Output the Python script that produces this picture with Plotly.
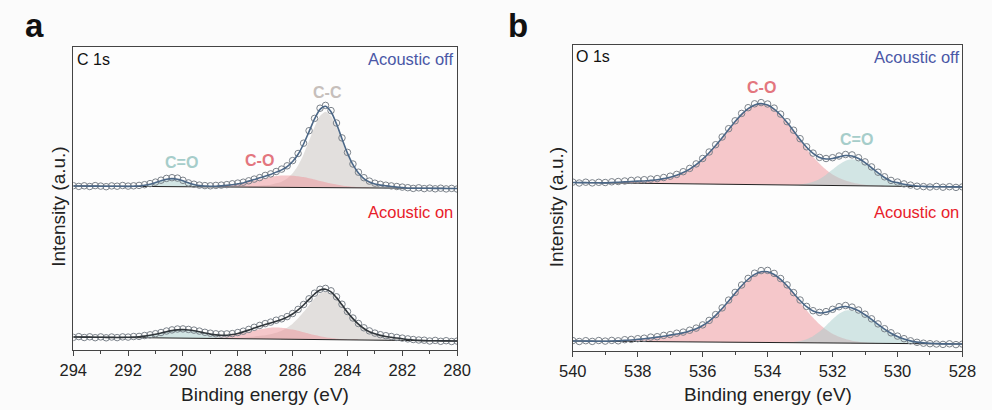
import numpy as np
import plotly.graph_objects as go

STEP = 0.2
# ---------------- Panel a : C 1s (energy grid 294 -> 280 eV) ----------------
energy_a = np.round(np.linspace(294.0, 280.0, 71), 1)
tick_labels_a = [294, 292, 290, 288, 286, 284, 282, 280]

off_a_data = [164.3, 163.6, 164.2, 163.5, 164.4, 163.9, 163.3, 164.1, 163.8, 164.5,
              163.9, 164.2, 164.6, 165.3, 166.4, 167.9, 169.8, 171.6, 172.3, 171.9,
              169.7, 167.1, 165.8, 164.9, 164.4, 164.2, 164.6, 164.9, 165.4, 166.2,
              166.9, 167.8, 169.2, 170.9, 172.4, 174.6, 176.1, 178.5, 180.9, 184.2,
              189.4, 196.5, 206.8, 219.3, 231.6, 241.8, 244.6, 239.4, 227.0, 212.1,
              197.6, 186.0, 177.8, 172.3, 168.9, 166.8, 165.7, 164.8, 164.1, 163.5,
              162.9, 162.3, 161.6, 162.2, 161.4, 161.9, 161.2, 161.8, 161.1, 161.6,
              161.0]
off_a_baseline = [164.0, 161.5]          # at 294 eV and 280 eV
off_a_CdO_start = 291.8
off_a_CdO = [0.2, 0.5, 1.2, 2.3, 4.0, 5.9, 7.4, 8.0, 7.4, 5.9, 4.0, 2.3, 1.2, 0.5, 0.2]
off_a_CO_start = 289.2
off_a_CO = [0.3, 0.5, 0.75, 1.1, 1.6, 2.3, 3.2, 4.2, 5.4, 6.6, 8.0, 9.2, 10.4, 11.2, 11.8, 12.0,
            11.8, 11.2, 10.4, 9.2, 8.0, 6.6, 5.4, 4.2, 3.2, 2.3, 1.6, 1.1, 0.75, 0.5, 0.3]
off_a_CC_start = 287.6
off_a_CC = [0.6, 1.0, 1.4, 1.9, 2.5, 4.0, 5.7, 8.8, 14.1, 22.0, 33.1, 46.7, 60.6, 71.7, 76.0,
            71.7, 60.6, 46.7, 33.1, 22.0, 14.1, 8.8, 5.7, 4.0, 2.9, 2.2, 1.6, 1.0, 0.5]

on_a_data = [12.6, 13.4, 12.5, 13.2, 12.3, 13.1, 12.2, 13.0, 12.4, 13.1,
             12.9, 13.5, 13.6, 14.5, 15.2, 16.3, 17.5, 19.0, 20.1, 21.0,
             21.1, 20.6, 19.9, 18.9, 17.7, 16.8, 16.2, 16.0, 16.1, 16.4,
             17.5, 18.8, 20.6, 22.7, 24.6, 26.4, 27.9, 29.8, 31.2, 33.4,
             36.5, 40.6, 45.5, 51.2, 56.8, 60.7, 61.6, 59.2, 53.2, 45.8,
             38.5, 32.0, 26.5, 22.2, 19.1, 16.9, 15.3, 14.3, 13.5, 12.6,
             11.9, 11.1, 10.5, 10.0, 9.8, 9.0, 9.6, 8.7, 9.3, 8.5,
             8.9]
on_a_baseline = [13.0, 9.0]
on_a_CdO_start = 292.2
on_a_CdO = [0.15, 0.3, 0.5, 1.0, 1.6, 2.5, 3.6, 4.9, 6.2, 7.4, 8.2, 8.5, 8.2, 7.4, 6.2, 4.9,
            3.6, 2.5, 1.6, 1.0, 0.5, 0.3, 0.15]
on_a_CO_start = 289.6
on_a_CO = [0.15, 0.3, 0.4, 0.7, 1.1, 1.7, 2.4, 3.4, 4.5, 5.75, 7.1, 8.5, 9.7, 10.6, 11.3, 11.5,
           11.3, 10.6, 9.7, 8.5, 7.1, 5.75, 4.5, 3.4, 2.4, 1.7, 1.1, 0.7, 0.4, 0.3, 0.15]
on_a_CC_start = 288.2
on_a_CC = [0.2, 0.5, 1.0, 1.6, 2.3, 3.1, 3.8, 4.8, 6.3, 8.4, 11.5, 15.6, 21.0, 27.3, 34.3, 41.0,
           46.1, 48.0, 46.1, 41.0, 34.3, 27.3, 21.0, 15.6, 11.5, 8.4, 6.3, 4.8, 3.8, 3.1, 2.3,
           1.6, 1.0, 0.5, 0.2]

# ---------------- Panel b : O 1s (energy grid 540 -> 528 eV) ----------------
energy_b = np.round(np.linspace(540.0, 528.0, 61), 1)
tick_labels_b = [540, 538, 536, 534, 532, 530, 528]

off_b_data = [168.9, 168.0, 168.8, 168.1, 168.7, 168.5, 169.2, 169.5, 170.0, 170.6,
              171.0, 171.3, 171.9, 172.4, 173.5, 174.8, 176.6, 179.3, 182.6, 187.1,
              192.5, 199.0, 206.3, 214.0, 222.3, 230.2, 237.6, 243.3, 247.2, 248.4,
              247.0, 242.9, 236.9, 229.3, 220.8, 212.3, 204.2, 197.9, 193.6, 192.5,
              193.3, 195.0, 196.5, 196.1, 193.3, 189.1, 184.1, 178.8, 174.2, 170.6,
              169.0, 167.1, 165.9, 164.8, 164.4, 164.0, 164.6, 163.8, 164.3, 163.6,
              164.1]
off_b_baseline = [168.5, 164.0]
off_b_CO_start = 538.8
off_b_CO = [0.4, 0.8, 1.2, 1.7, 2.1, 2.4, 3.0, 3.7, 4.9, 6.3, 8.4, 11.2, 14.7, 19.2, 24.8,
            31.3, 38.6, 46.5, 54.8, 62.8, 70.1, 75.9, 79.7, 81.0, 79.7, 75.8, 69.9, 62.4,
            53.8, 44.9, 36.3, 28.4, 21.5, 15.7, 11.1, 7.6, 5.1, 3.2, 2.0, 1.2, 0.7, 0.4, 0.2]
off_b_CdO_start = 533.2
off_b_CdO = [0.3, 0.7, 1.7, 3.5, 6.4, 10.7, 15.9, 21.1, 25.0, 26.5, 25.3, 22.0, 17.5, 12.7,
             8.4, 5.0, 3.6, 2.0, 1.1, 0.5, 0.2]

on_b_data = [10.4, 9.5, 10.3, 9.6, 10.5, 9.9, 10.6, 10.2, 11.3, 11.6,
             12.3, 12.8, 13.9, 14.3, 15.6, 16.4, 17.8, 18.9, 20.8, 22.9,
             26.1, 30.6, 36.4, 43.1, 50.9, 58.6, 66.0, 72.6, 77.8, 80.4,
             80.6, 77.6, 72.5, 66.1, 58.4, 51.0, 44.6, 40.3, 38.6, 39.4,
             41.7, 44.3, 45.5, 43.9, 41.0, 36.8, 32.2, 27.1, 22.3, 18.2,
             14.9, 12.3, 10.2, 8.7, 7.8, 7.3, 7.0, 6.6, 7.2, 6.4,
             6.9]
on_b_baseline = [10.0, 7.0]
on_b_CO_start = 538.8
on_b_CO = [0.3, 0.6, 1.0, 1.5, 2.1, 2.8, 3.6, 4.5, 5.5, 6.6, 7.8, 9.0, 11.0, 13.2, 16.5, 21.0,
           26.8, 33.7, 41.2, 49.0, 56.5, 63.1, 68.0, 70.7,
           70.7, 68.1, 63.3, 56.6, 48.8, 40.6, 32.5, 25.1, 18.7, 13.4, 9.2, 6.2, 4.0, 2.4,
           1.5, 0.8, 0.5, 0.2]
on_b_CdO_start = 533.4
on_b_CdO = [0.3, 0.7, 1.7, 3.6, 6.7, 11.3, 17.3, 23.7, 29.3, 32.6, 32.8, 31.0, 27.7, 23.5,
            18.8, 14.3, 10.2, 6.9, 4.5, 2.7, 1.5, 0.8, 0.4, 0.2]

# ---------------- styling ----------------
FONT = "Liberation Sans, Arial, sans-serif"
FILL_CO = "rgba(238,150,156,0.52)"
FILL_CdO = "rgba(168,206,204,0.50)"
FILL_CC = "rgba(200,193,190,0.50)"
DATA_COLOR = "#7b828a"
ENV_BLUE = "#4b6787"
ENV_DARK = "#30363b"
AXIS_COLOR = "#444444"

W, H = 992, 410
fig = go.Figure()


def baseline_values(E, ends):
    return ends[0] + (ends[1] - ends[0]) * (E[0] - E) / (E[0] - E[-1])


def add_spectrum(E, data, base_ends, comps, env_color, xa, ya):
    base = baseline_values(E, base_ends)
    total = base.copy()
    for start, vals, color in comps:
        vals = np.asarray(vals, dtype=float)
        i0 = int(round((E[0] - start) / STEP))
        seg_E = E[i0:i0 + len(vals)]
        seg_b = base[i0:i0 + len(vals)]
        xs = np.concatenate([seg_E, seg_E[::-1]])
        ys = np.concatenate([seg_b + vals, seg_b[::-1]])
        fig.add_trace(go.Scatter(x=xs, y=ys, mode="lines", fill="toself", fillcolor=color,
                                 line=dict(width=0, shape="spline", smoothing=0.6),
                                 hoverinfo="skip", xaxis=xa, yaxis=ya))
        total[i0:i0 + len(vals)] += vals
    fig.add_trace(go.Scatter(x=[E[0], E[-1]], y=base_ends, mode="lines",
                             line=dict(color="#222222", width=1), hoverinfo="skip",
                             xaxis=xa, yaxis=ya))
    fig.add_trace(go.Scatter(x=E, y=data, mode="markers",
                             marker=dict(symbol="circle-open", size=6.5, color=DATA_COLOR,
                                         line=dict(width=1, color=DATA_COLOR)),
                             hoverinfo="skip", xaxis=xa, yaxis=ya))
    fig.add_trace(go.Scatter(x=E, y=total, mode="lines",
                             line=dict(color=env_color, width=1.6, shape="spline", smoothing=0.8),
                             hoverinfo="skip", xaxis=xa, yaxis=ya))


# panel a
add_spectrum(energy_a, off_a_data, off_a_baseline,
             [(off_a_CC_start, off_a_CC, FILL_CC), (off_a_CO_start, off_a_CO, FILL_CO),
              (off_a_CdO_start, off_a_CdO, FILL_CdO)], ENV_BLUE, "x", "y")
add_spectrum(energy_a, on_a_data, on_a_baseline,
             [(on_a_CC_start, on_a_CC, FILL_CC), (on_a_CO_start, on_a_CO, FILL_CO),
              (on_a_CdO_start, on_a_CdO, FILL_CdO)], ENV_DARK, "x", "y")
# panel b
add_spectrum(energy_b, off_b_data, off_b_baseline,
             [(off_b_CO_start, off_b_CO, FILL_CO), (off_b_CdO_start, off_b_CdO, FILL_CdO)],
             ENV_BLUE, "x2", "y2")
add_spectrum(energy_b, on_b_data, on_b_baseline,
             [(on_b_CO_start, on_b_CO, FILL_CO), (on_b_CdO_start, on_b_CdO, FILL_CdO)],
             ENV_BLUE, "x2", "y2")


def xaxis_cfg(domain, rng, ticks):
    return dict(domain=domain, range=rng, showline=True, linecolor=AXIS_COLOR, linewidth=1.2,
                mirror=True, ticks="outside", ticklen=5, tickwidth=1.2, tickcolor=AXIS_COLOR,
                tickvals=ticks, ticktext=[str(t) for t in ticks],
                tickfont=dict(family=FONT, size=16.5, color="#222222"),
                minor=dict(ticks="outside", ticklen=3, tickwidth=1, tickcolor=AXIS_COLOR, dtick=1),
                showgrid=False, zeroline=False, fixedrange=True)


def yaxis_cfg(domain, rng, anchor):
    return dict(domain=domain, range=rng, anchor=anchor, showline=True, linecolor=AXIS_COLOR,
                linewidth=1.2, mirror=True, ticks="", showticklabels=False, showgrid=False,
                zeroline=False, fixedrange=True)


xa = xaxis_cfg([61 / W, 456 / W], [294, 280], tick_labels_a)
xa["anchor"] = "y"
xb = xaxis_cfg([575 / W, 976 / W], [540, 528], tick_labels_b)
xb["anchor"] = "y2"
ya = yaxis_cfg([(H - 350) / H, (H - 47) / H], [0, 303], "x")
yb = yaxis_cfg([(H - 351) / H, (H - 45) / H], [0, 306], "x2")

ann = []


def txt(text, x, y, xref, yref, size, color, xanchor="center", yanchor="middle",
        angle=0, bold=False):
    ann.append(dict(text=f"<b>{text}</b>" if bold else text, x=x, y=y, xref=xref, yref=yref,
                    showarrow=False, xanchor=xanchor, yanchor=yanchor, textangle=angle,
                    font=dict(family=FONT, size=size, color=color)))


# panel letters
txt("a", 21 / W, (H - 26) / H, "paper", "paper", 33, "#111111", bold=True)
txt("b", 519 / W, (H - 25) / H, "paper", "paper", 33, "#111111", bold=True)
# axis titles
txt("Binding energy (eV)", 258.5 / W, (H - 394) / H, "paper", "paper", 19, "#222222")
txt("Binding energy (eV)", 775.5 / W, (H - 394) / H, "paper", "paper", 19, "#222222")
txt("Intensity (a.u.)", 45 / W, (H - 207) / H, "paper", "paper", 19, "#222222", angle=-90)
txt("Intensity (a.u.)", 558 / W, (H - 207) / H, "paper", "paper", 19, "#222222", angle=-90)
# corner labels
txt("C 1s", 0.004, 0.96, "x domain", "y domain", 16, "#111111", xanchor="left")
txt("O 1s", 0.004, 0.961, "x2 domain", "y2 domain", 16, "#111111", xanchor="left")
txt("Acoustic off", 0.995, 0.96, "x domain", "y domain", 16.5, "#4a57a6", xanchor="right")
txt("Acoustic on", 0.995, 0.455, "x domain", "y domain", 16.5, "#e8202a", xanchor="right")
txt("Acoustic off", 0.995, 0.961, "x2 domain", "y2 domain", 16.5, "#4a57a6", xanchor="right")
txt("Acoustic on", 0.995, 0.454, "x2 domain", "y2 domain", 16.5, "#e8202a", xanchor="right")
# peak labels
txt("C=O", 290.06, 188, "x", "y", 16, "#a6cdca", bold=True)
txt("C-O", 287.19, 190, "x", "y", 16, "#e3767e", bold=True)
txt("C-C", 284.74, 258, "x", "y", 16, "#c6bfbb", bold=True)
txt("C-O", 534.19, 264, "x2", "y2", 16, "#e3767e", bold=True)
txt("C=O", 531.26, 212, "x2", "y2", 16, "#a6cdca", bold=True)

fig.update_layout(width=W, height=H, margin=dict(l=0, r=0, t=0, b=0),
                  paper_bgcolor="#fbfbfb", plot_bgcolor="#fdfdfd", showlegend=False,
                  xaxis=xa, xaxis2=xb, yaxis=ya, yaxis2=yb, annotations=ann,
                  hovermode=False)

fig.write_html("out.html")
